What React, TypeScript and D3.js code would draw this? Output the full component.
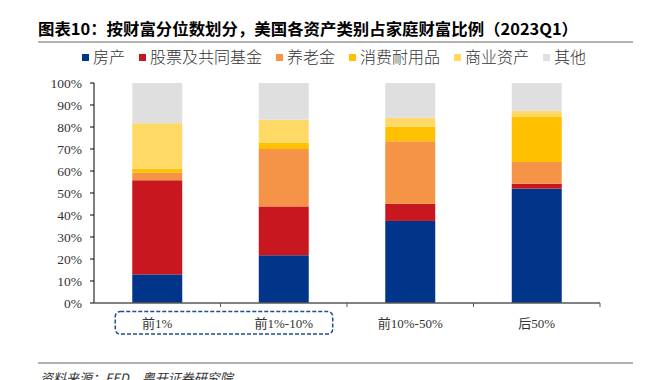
import React from "react";
import * as d3 from "d3";

const categories = ["前1%", "前1%-10%", "前10%-50%", "后50%"];
const seriesNames = ["房产", "股票及共同基金", "养老金", "消费耐用品", "商业资产", "其他"];
const realEstate = [13.0, 21.7, 37.3, 52.0];
const equities = [42.8, 22.2, 7.8, 2.2];
const pension = [3.4, 26.1, 28.4, 9.9];
const durables = [1.8, 2.9, 6.7, 20.7];
const business = [20.7, 10.4, 4.0, 2.6];
const other = [18.3, 16.7, 15.8, 12.6];
const yTicks = [0, 10, 20, 30, 40, 50, 60, 70, 80, 90, 100];
const colors = ["#00358A", "#C8171F", "#F59446", "#FFC000", "#FFD966", "#DFDFDF"];

const W = 649;
const H = 380;
const CJK = "'Noto Sans CJK SC', sans-serif";
const SERIF = "'Liberation Serif', 'Noto Sans CJK SC', serif";

export default function App() {
  const left = 94, right = 600, top = 83, bottom = 303;
  const x = d3.scaleBand<string>().domain(categories).range([left, right]).paddingInner(0.605).paddingOuter(0.3025);
  const y = d3.scaleLinear().domain([0, 100]).range([bottom, top]);
  const allSeries = [realEstate, equities, pension, durables, business, other];
  const rows = categories.map((c, i) => {
    const r: any = { cat: c };
    seriesNames.forEach((s, j) => (r[s] = allSeries[j][i]));
    return r;
  });
  const stacked = d3.stack().keys(seriesNames)(rows);
  const step = x.step();
  const boundaries = categories.map((_, i) => left + (i + 1) * step);

  const fs = 16;
  let lx = 82;
  const legendItems = seriesNames.map((s, i) => {
    const item = { s, x: lx, c: colors[i] };
    lx += 11 + s.length * fs + 14;
    return item;
  });

  const boxX0 = (x(categories[0]) as number) - 17;
  const boxX1 = (x(categories[1]) as number) + x.bandwidth() + 24;

  return (
    <svg width={W} height={H} style={{ position: "absolute", left: 0, top: 0, background: "#fff" }}>
      <text x={38} y={35} fontFamily={CJK} fontWeight={700} fontSize={16} fill="#000" textLength={540} lengthAdjust="spacingAndGlyphs">
        图表10：按财富分位数划分，美国各资产类别占家庭财富比例（2023Q1）
      </text>
      <line x1={38} x2={633} y1={42} y2={42} stroke="#9a9a9a" strokeWidth={1.5} />

      {legendItems.map((it) => (
        <g key={it.s}>
          <rect x={it.x} y={54} width={7} height={7} fill={it.c} />
          <text x={it.x + 11} y={63} fontFamily={CJK} fontSize={fs} fill="#333" fontWeight={300}>
            {it.s}
          </text>
        </g>
      ))}

      {stacked.map((layer, j) => (
        <g key={layer.key} fill={colors[j]}>
          {layer.map((d: any, i: number) => (
            <rect
              key={i}
              x={x(categories[i])}
              width={x.bandwidth()}
              y={y(d[1])}
              height={y(d[0]) - y(d[1])}
            />
          ))}
        </g>
      ))}

      <line x1={left} x2={left} y1={top} y2={bottom} stroke="#000" strokeWidth={1} />
      {yTicks.map((t) => (
        <g key={t}>
          <line x1={left - 4} x2={left} y1={y(t)} y2={y(t)} stroke="#000" />
          <text x={82} y={y(t)} dy="0.35em" textAnchor="end" fontFamily={SERIF} fontSize={13.5} fill="#333">
            {t}%
          </text>
        </g>
      ))}

      <line x1={left} x2={right} y1={bottom} y2={bottom} stroke="#595959" strokeWidth={1.5} />
      {boundaries.map((b, i) => (
        <line key={i} x1={b} x2={b} y1={bottom} y2={bottom + 4} stroke="#595959" strokeWidth={1} />
      ))}
      {categories.map((c) => (
        <text
          key={c}
          x={(x(c) as number) + x.bandwidth() / 2}
          y={323}
          dy="0.35em"
          textAnchor="middle"
          fontFamily={SERIF}
          fontSize={13}
          fill="#333"
        >
          {c}
        </text>
      ))}
      <rect
        x={boxX0}
        y={311.5}
        width={boxX1 - boxX0}
        height={22.5}
        rx={5}
        fill="none"
        stroke="#1F4E99"
        strokeWidth={1.5}
        strokeDasharray="4 2"
      />

      <line x1={38} x2={633} y1={363} y2={363} stroke="#9a9a9a" strokeWidth={1.5} />
      <text x={40} y={383} fontFamily={CJK} fontSize={13} fontStyle="italic" fill="#333">
        资料来源：FED，粤开证券研究院
      </text>
    </svg>
  );
}
